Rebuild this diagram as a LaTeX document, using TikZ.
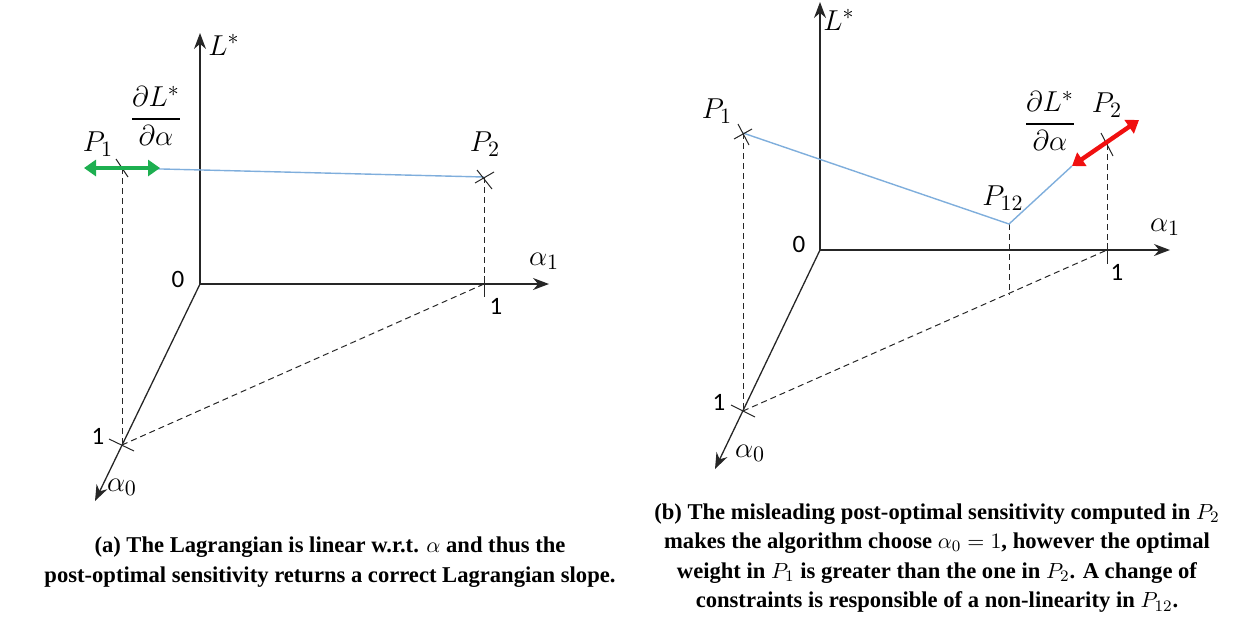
\documentclass[tikz,border=0pt]{standalone}
\usepackage{fontspec}
\usepackage{amsmath}
\usetikzlibrary{arrows.meta}
\newfontfamily\lblfont{Carlito}
\newfontfamily\capfont{Liberation Serif}
\definecolor{axiscol}{HTML}{262626}
\definecolor{bluel}{HTML}{7FAEDC}
\definecolor{greenar}{HTML}{1DAF50}
\definecolor{redar}{HTML}{F01010}
\tikzset{
  axis/.style={draw=axiscol, line width=0.65pt, -{Stealth[length=8pt,width=6pt]}},
  proj/.style={draw=axiscol, line width=0.5pt, dash pattern=on 3pt off 2pt},
  curve/.style={draw=bluel, line width=0.7pt},
  tickm/.style={draw=axiscol, line width=0.5pt},
  num/.style={font=\lblfont\fontsize{12.5}{14}\selectfont, inner sep=0pt},
  mlab/.style={font=\fontsize{15.5}{18}\selectfont, inner sep=0pt},
  sens/.style={line width=2.2pt, {Triangle[length=6pt,width=8pt]}-{Triangle[length=6pt,width=8pt]}},
  capt/.style={font=\capfont\bfseries\fontsize{11.3}{14.8}\selectfont, align=center, inner sep=0pt}
}
\begin{document}
\begin{tikzpicture}[x=0.5pt,y=-0.5pt]
\useasboundingbox (0,0) rectangle (1246,617);
% ---------------- panel (a) ----------------
\coordinate (aO) at (200,284);
\coordinate (aLtop) at (200,33);
\coordinate (aA1end) at (549,284);
\coordinate (aA0end) at (95,501);
\coordinate (aT1) at (484,284);
\coordinate (aT0) at (122,445);
\coordinate (aP1) at (122,168);
\coordinate (aP2) at (484,177);
\coordinate (aGl) at (84,168);
\coordinate (aGr) at (160,168);

\draw[proj] (aP1) -- (aT0);
\draw[proj] (aP2) -- (aT1);
\draw[proj] (aT0) -- (aT1);
\draw[axis] (aO) -- (aLtop);
\draw[axis] (aO) -- (aA1end);
\draw[axis] (aO) -- (aA0end);
\draw[tickm] (484,276) -- (484,297);
\draw[tickm] (109,439) -- (134,451);
\draw[curve] (aP1) -- (aP2);
\draw[tickm] (116,159) -- (128,177);
\draw[tickm] (477,170) -- (492,189);
\draw[tickm] (475,183) -- (494,172);
\draw[sens, draw=greenar, fill=greenar] (aGl) -- (aGr);

\node[mlab] (aLl) at (224,45) {$L^{*}$};
\node[mlab] (aA1l) at (544,261) {$\alpha_1$};
\node[mlab] (aA0l) at (122,487) {$\alpha_0$};
\node[num] (aZero) at (178,279) {0};
\node[num] (aOne1) at (496,306) {1};
\node[num] (aOne0) at (98,436) {1};
\node[mlab] (aP1l) at (98,144) {$P_1$};
\node[mlab] (aP2l) at (485,144) {$P_2$};
\node[mlab] (aFr) at (156,116) {$\dfrac{\partial L^{*}}{\partial \alpha}$};

\node[capt] (capA) at (330,562) {(a) The Lagrangian is linear w.r.t. $\alpha$ and thus the\\post-optimal sensitivity returns a correct Lagrangian slope.};

% ---------------- panel (b) ----------------
\coordinate (bO) at (820,250);
\coordinate (bLtop) at (820,2);
\coordinate (bA1end) at (1170,250);
\coordinate (bA0end) at (715,469);
\coordinate (bT1) at (1107,250);
\coordinate (bT0) at (743,411);
\coordinate (bP1) at (743,133);
\coordinate (bP12) at (1009,224);
\coordinate (bP12f) at (1009,295);
\coordinate (bP2) at (1107,144);
\coordinate (bRl) at (1072,166);
\coordinate (bRr) at (1139,120);

\draw[proj] (bP1) -- (bT0);
\draw[proj] (bP12) -- (bP12f);
\draw[proj] (bP2) -- (bT1);
\draw[proj] (bT0) -- (bT1);
\draw[axis] (bO) -- (bLtop);
\draw[axis] (bO) -- (bA1end);
\draw[axis] (bO) -- (bA0end);
\draw[tickm] (1107,243) -- (1107,264);
\draw[tickm] (731,405) -- (755,417);
\draw[curve] (bP1) -- (bP12) -- (bRl);
\draw[tickm] (738,124) -- (749,145);
\draw[tickm] (734,139) -- (752,129);
\draw[tickm] (1101,133) -- (1113,156);
\draw[sens, draw=redar, fill=redar] (bRl) -- (bRr);

\node[mlab, anchor=north] (bLl) at (839,9) {$L^{*}$};
\node[mlab] (bA1l) at (1165,227) {$\alpha_1$};
\node[mlab] (bA0l) at (750,453) {$\alpha_0$};
\node[num] (bZero) at (799,244) {0};
\node[num] (bOne1) at (1117,272) {1};
\node[num] (bOne0) at (719,402) {1};
\node[mlab] (bP1l) at (717,111) {$P_1$};
\node[mlab] (bP12l) at (1003,198) {$P_{12}$};
\node[mlab] (bP2l) at (1107,105) {$P_2$};
\node[mlab] (bFr) at (1050,121) {$\dfrac{\partial L^{*}}{\partial \alpha}$};

\node[capt] (capB) at (937,558) {(b) The misleading post-optimal sensitivity computed in $P_2$\\makes the algorithm choose $\alpha_0=1$, however the optimal\\weight in $P_1$ is greater than the one in $P_2$. A change of\\constraints is responsible of a non-linearity in $P_{12}$.};
\end{tikzpicture}
\end{document}
